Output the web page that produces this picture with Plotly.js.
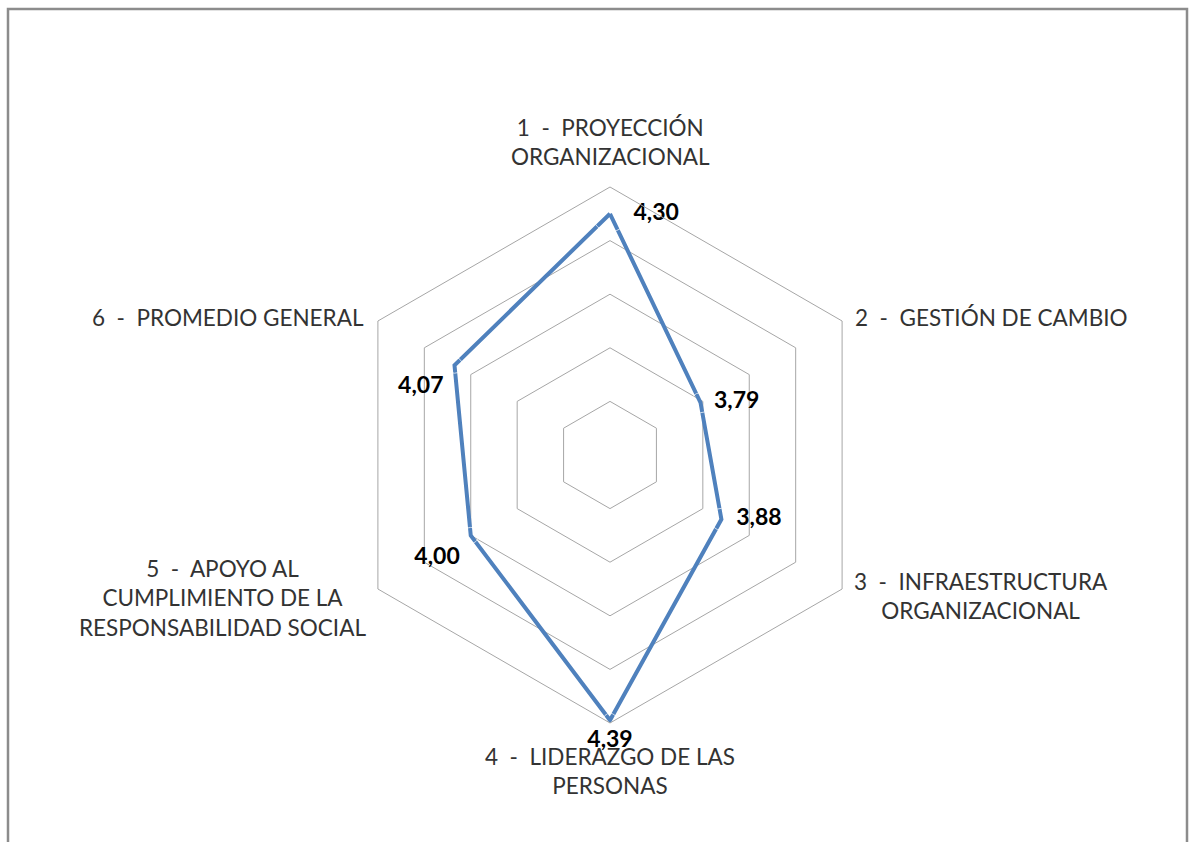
<!DOCTYPE html>
<html>
<head>
<meta charset="utf-8">
<script src="https://cdn.plot.ly/plotly-3.0.1.min.js"></script>
<style>html,body{margin:0;padding:0;background:#fff;}#chart{width:1189px;height:842px;}</style>
</head>
<body>
<div id="chart"></div>
<script>
const categories = [
  "1  -  PROYECCIÓN ORGANIZACIONAL",
  "2  -  GESTIÓN DE CAMBIO",
  "3  -  INFRAESTRUCTURA ORGANIZACIONAL",
  "4  -  LIDERAZGO DE LAS PERSONAS",
  "5  -  APOYO AL CUMPLIMIENTO DE LA RESPONSABILIDAD SOCIAL",
  "6  -  PROMEDIO GENERAL"
];
const categoryLabels = [
  "1  -  PROYECCIÓN<br>ORGANIZACIONAL",
  "2  -  GESTIÓN DE CAMBIO",
  "3  -  INFRAESTRUCTURA<br>ORGANIZACIONAL",
  "4  -  LIDERAZGO DE LAS<br>PERSONAS",
  "5  -  APOYO AL<br>CUMPLIMIENTO DE LA<br>RESPONSABILIDAD SOCIAL",
  "6  -  PROMEDIO GENERAL"
];
const values = [4.30, 3.79, 3.88, 4.39, 4.00, 4.07];
const valueLabels = ["4,30", "3,79", "3,88", "4,39", "4,00", "4,07"];

const W = 1189, H = 842;
const cx = 610, cy = 455, R = 268;
const px = x => x / W;
const py = y => 1 - y / H;

const labelPos = [
  {x: 610, y: 142, xanchor: "center", align: "center"},
  {x: 853, y: 318, xanchor: "left", align: "left"},
  {x: 981, y: 596, xanchor: "center", align: "center"},
  {x: 610, y: 771, xanchor: "center", align: "center"},
  {x: 222, y: 598, xanchor: "center", align: "center"},
  {x: 366, y: 318, xanchor: "right", align: "right"}
];

const lineTrace = {
  type: "scatterpolar",
  r: values.concat([values[0]]),
  theta: categories.concat([categories[0]]),
  mode: "lines",
  line: {color: "#4f81bd", width: 4},
  hoverinfo: "none",
  showlegend: false
};

const textTrace = {
  type: "scatterpolar",
  r: values,
  theta: categories,
  mode: "markers+text",
  text: valueLabels,
  textposition: ["middle right", "middle right", "middle right", "bottom center", "bottom left", "bottom left"],
  marker: {size: [36, 20, 22, 14, 16, 16], color: "rgba(0,0,0,0)"},
  textfont: {family: "Lato, 'Open Sans', sans-serif", size: 23, color: "#000", weight: "bold"},
  cliponaxis: false,
  hoverinfo: "none",
  showlegend: false
};

const annotations = categoryLabels.map((t, i) => ({
  text: t,
  xref: "paper", yref: "paper",
  x: px(labelPos[i].x), y: py(labelPos[i].y),
  xanchor: labelPos[i].xanchor, yanchor: "middle",
  align: labelPos[i].align,
  showarrow: false,
  font: {family: "Lato, 'Open Sans', sans-serif", size: 22.5, color: "#333"}
}));

const layout = {
  width: W, height: H,
  margin: {l: 0, r: 0, t: 0, b: 0},
  paper_bgcolor: "#fff",
  plot_bgcolor: "#fff",
  showlegend: false,
  polar: {
    domain: {x: [px(cx - R), px(cx + R)], y: [py(cy + R), py(cy - R)]},
    gridshape: "linear",
    bgcolor: "rgba(0,0,0,0)",
    radialaxis: {
      range: [3.4, 4.4],
      dtick: 0.2,
      tick0: 3.4,
      showticklabels: false,
      ticks: "",
      showline: false,
      gridcolor: "#a6a6a6",
      gridwidth: 1
    },
    angularaxis: {
      rotation: 90,
      direction: "clockwise",
      showticklabels: false,
      ticks: "",
      showgrid: false,
      showline: true,
      linecolor: "#a6a6a6",
      linewidth: 1
    }
  },
  annotations: annotations,
  shapes: [{
    type: "rect", xref: "paper", yref: "paper",
    x0: px(8), x1: px(1187), y0: py(860), y1: py(9),
    line: {color: "#8c8c8c", width: 2.5},
    fillcolor: "rgba(0,0,0,0)"
  }]
};

Plotly.newPlot("chart", [lineTrace, textTrace], layout, {staticPlot: true, displayModeBar: false});
</script>
</body>
</html>
